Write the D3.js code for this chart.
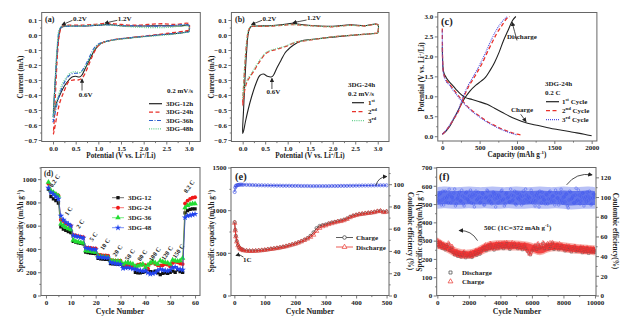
<!DOCTYPE html>
<html><head><meta charset="utf-8">
<script src="https://cdn.jsdelivr.net/npm/d3@7"></script>
<style>
body{margin:0;background:#fff}
svg text{font-family:"Liberation Serif","Times New Roman",serif;font-weight:bold;fill:#222}
.ax path.domain{display:none}
.ax line{stroke:#555;stroke-width:.8}
.ax text{font-size:7px;fill:#222}
</style></head><body>
<svg id="fig" width="632" height="332"></svg>
<script>
// ---------- (a) CV loops, 0.2 mV/s, [potential V, current mA] ----------
const cv12h = [[3.0,0.025],[2.8,0.012],[2.5,0.005],[2.0,-0.01],[1.6,-0.022],[1.3,-0.035],[1.1,-0.05],[1.0,-0.07],[0.9,-0.11],[0.8,-0.17],[0.7,-0.23],[0.63,-0.27],[0.58,-0.28],[0.5,-0.275],[0.42,-0.28],[0.35,-0.3],[0.25,-0.34],[0.15,-0.4],[0.08,-0.45],[0.03,-0.5],[0.01,-0.52],
  [0.02,-0.45],[0.05,-0.3],[0.09,-0.12],[0.13,0.0],[0.18,0.05],[0.25,0.058],[0.4,0.06],[0.7,0.06],[1.0,0.065],[1.2,0.07],[1.5,0.062],[2.0,0.06],[2.4,0.062],[2.8,0.06],[3.0,0.065],[3.0,0.025]];
const cv24h = [[3.0,0.03],[2.5,0.01],[2.0,-0.008],[1.5,-0.025],[1.2,-0.04],[1.0,-0.07],[0.9,-0.12],[0.8,-0.19],[0.7,-0.26],[0.63,-0.29],[0.55,-0.3],[0.45,-0.3],[0.35,-0.31],[0.25,-0.37],[0.15,-0.45],[0.08,-0.55],[0.03,-0.63],[0.01,-0.66],
  [0.03,-0.55],[0.06,-0.35],[0.1,-0.12],[0.14,0.0],[0.19,0.055],[0.3,0.065],[0.6,0.065],[0.9,0.07],[1.2,0.078],[1.5,0.07],[1.8,0.065],[2.1,0.07],[2.4,0.075],[2.7,0.07],[3.0,0.075],[3.0,0.03]];
const cv36h = [[3.0,0.02],[2.5,0.005],[2.0,-0.01],[1.5,-0.025],[1.2,-0.04],[1.0,-0.06],[0.9,-0.09],[0.8,-0.15],[0.7,-0.21],[0.6,-0.25],[0.5,-0.255],[0.4,-0.26],[0.3,-0.29],[0.2,-0.35],[0.12,-0.42],[0.06,-0.5],[0.02,-0.56],[0.0,-0.58],
  [0.02,-0.48],[0.05,-0.3],[0.09,-0.1],[0.13,0.02],[0.17,0.05],[0.3,0.058],[0.6,0.06],[1.0,0.065],[1.2,0.068],[1.5,0.062],[2.0,0.06],[2.5,0.06],[3.0,0.062],[3.0,0.02]];
const cv48h = [[3.0,0.02],[2.5,0.0],[2.0,-0.012],[1.5,-0.028],[1.2,-0.042],[1.0,-0.065],[0.9,-0.1],[0.8,-0.16],[0.7,-0.22],[0.6,-0.25],[0.5,-0.245],[0.4,-0.25],[0.3,-0.28],[0.2,-0.33],[0.12,-0.4],[0.06,-0.47],[0.02,-0.53],[0.0,-0.55],
  [0.02,-0.45],[0.05,-0.28],[0.09,-0.08],[0.13,0.03],[0.18,0.055],[0.3,0.06],[0.6,0.06],[1.0,0.068],[1.3,0.065],[1.7,0.055],[2.0,0.05],[2.5,0.05],[3.0,0.055],[3.0,0.02]];

// ---------- (b) CV cycles of 3DG-24h ----------
const cvCycle1 = [[3.0,0.012],[2.5,0.0],[2.1,-0.011],[1.75,-0.022],[1.5,-0.03],[1.3,-0.04],[1.13,-0.067],[1.0,-0.1],[0.94,-0.12],[0.85,-0.17],[0.76,-0.22],[0.68,-0.27],[0.63,-0.28],[0.55,-0.275],[0.46,-0.26],[0.38,-0.27],[0.3,-0.32],[0.2,-0.41],[0.12,-0.5],[0.06,-0.58],[0.02,-0.64],[0.0,-0.656],
  [0.02,-0.5],[0.05,-0.3],[0.09,-0.1],[0.13,0.02],[0.18,0.055],[0.3,0.06],[0.6,0.062],[0.9,0.07],[1.1,0.078],[1.3,0.07],[1.6,0.062],[2.0,0.058],[2.4,0.068],[2.7,0.062],[3.0,0.07],[3.0,0.012]];
const cvCycle2 = [[3.0,0.012],[2.5,0.0],[2.0,-0.012],[1.76,-0.022],[1.4,-0.038],[1.17,-0.05],[0.94,-0.078],[0.76,-0.095],[0.53,-0.12],[0.35,-0.19],[0.25,-0.24],[0.16,-0.28],[0.1,-0.31],[0.05,-0.36],[0.02,-0.42],[0.0,-0.47],
  [0.02,-0.35],[0.05,-0.2],[0.09,-0.05],[0.13,0.03],[0.18,0.055],[0.3,0.058],[0.6,0.058],[0.9,0.065],[1.1,0.07],[1.3,0.066],[1.6,0.06],[2.0,0.055],[2.4,0.065],[2.7,0.06],[3.0,0.068],[3.0,0.012]];
const cvCycle3 = [[3.0,0.012],[2.5,0.0],[2.0,-0.012],[1.76,-0.022],[1.4,-0.036],[1.17,-0.048],[0.94,-0.075],[0.76,-0.09],[0.53,-0.115],[0.35,-0.18],[0.25,-0.23],[0.16,-0.27],[0.1,-0.3],[0.05,-0.34],[0.02,-0.39],[0.0,-0.43],
  [0.02,-0.33],[0.05,-0.18],[0.09,-0.04],[0.13,0.035],[0.18,0.058],[0.3,0.06],[0.6,0.06],[0.9,0.066],[1.1,0.07],[1.3,0.066],[1.6,0.06],[2.0,0.056],[2.4,0.064],[2.7,0.06],[3.0,0.068],[3.0,0.012]];

// ---------- (c) galvanostatic profiles, [capacity mAh/g, potential V] ----------
const gcChg1 = [[0,2.25],[3,2.0],[8,1.75],[20,1.6],[50,1.48],[100,1.35],[150,1.25],[200,1.14],[250,1.05],[300,0.98],[400,0.92],[500,0.86],[600,0.8],[700,0.7],[800,0.6],[900,0.5],[1000,0.42],[1100,0.35],[1200,0.3],[1300,0.26],[1400,0.22],[1500,0.18],[1600,0.15],[1750,0.1],[1900,0.05],[2000,0.01]];
const gcChg2 = [[0,2.7],[2,2.2],[5,1.85],[15,1.6],[40,1.45],[100,1.3],[150,1.17],[200,1.05],[250,0.93],[300,0.82],[400,0.64],[500,0.5],[600,0.37],[700,0.27],[800,0.18],[900,0.11],[1000,0.05],[1060,0.03]];
const gcChg3 = [[0,2.65],[2,2.15],[5,1.82],[15,1.58],[40,1.42],[100,1.27],[150,1.14],[200,1.02],[250,0.9],[300,0.8],[400,0.62],[500,0.48],[600,0.35],[700,0.25],[800,0.16],[900,0.09],[1000,0.03]];
const gcDis1 = [[0,0.05],[50,0.13],[100,0.25],[150,0.42],[200,0.6],[259,0.82],[300,0.95],[370,1.13],[450,1.28],[520,1.38],[580,1.48],[640,1.65],[700,1.85],[760,2.1],[820,2.4],[880,2.65],[940,2.9],[985,3.0]];
const gcDis2 = [[0,0.05],[50,0.14],[100,0.27],[150,0.42],[214,0.62],[280,0.95],[348,1.23],[420,1.45],[482,1.65],[540,1.85],[594,2.07],[660,2.32],[728,2.57],[800,2.78],[880,2.98],[905,3.0]];
const gcDis3 = [[0,0.05],[50,0.15],[100,0.28],[150,0.44],[210,0.64],[275,0.97],[340,1.25],[410,1.48],[470,1.68],[530,1.9],[580,2.1],[640,2.35],[700,2.58],[780,2.82],[860,2.98],[875,3.0]];

// ---------- (d) rate capability, cycles 1-60 ----------
const rateLabels = ["0.2 C","1 C","2 C","5 C","10 C","20 C","50 C","80 C","100 C","120 C","150 C","0.2 C"];
const rateLabelAt = [[4.2,975],[9.8,715],[14.5,605],[19.8,495],[24.5,430],[29.5,375],[34.5,340],[39.5,335],[44.5,345],[49.5,355],[54,370],[58.3,925]];
const rate12 = [915,850,830,815,795, 590,570,560,550,540, 465,458,452,448,445, 372,368,365,362,360, 320,315,312,310,310, 275,272,270,268,268, 250,245,242,245,240, 200,195,195,198,205, 225,205,200,210,195, 180,190,195,190,200, 210,200,220,205,200, 710,730,740,745,745];
const rate24 = [960,890,880,870,860, 650,640,620,610,600, 520,515,510,505,500, 412,410,408,405,405, 350,348,345,345,342, 305,302,300,300,298, 265,260,258,255,255, 240,265,270,265,260, 230,275,285,270,260, 255,260,270,265,250, 280,290,285,275,270, 790,815,830,840,845];
const rate36 = [975,900,885,870,855, 615,600,585,575,565, 475,465,460,455,452, 385,380,378,375,372, 340,335,332,330,328, 300,298,295,295,292, 270,280,285,275,270, 250,255,260,270,240, 260,280,295,280,270, 300,290,285,280,270, 305,300,295,300,320, 755,775,785,790,790];
const rate48 = [925,885,870,850,830, 685,650,630,615,600, 515,510,505,500,495, 410,405,400,398,395, 330,330,328,325,325, 285,280,275,272,270, 235,238,240,236,230, 225,220,215,210,215, 195,185,190,195,215, 225,220,215,210,220, 240,245,230,225,220, 670,685,690,695,700];

// ---------- (e) long cycling at 1C ----------
const eCycles = [1,3,5,8,12,16,20,25,30,40,50,60,70,80,90,100,110,120,130,140,150,160,170,180,190,200,210,220,230,240,250,260,270,280,290,300,310,320,330,340,350,360,370,380,390,400,410,420,430,440,450,460,470,480,490,500];
const eDischarge = [850,760,690,630,585,560,545,535,528,522,520,520,522,525,528,532,538,543,548,553,560,567,575,585,595,605,618,632,648,665,685,710,755,790,810,820,835,845,855,865,870,880,895,915,930,940,950,955,960,965,970,975,985,990,975,980];
const eCharge = [860,770,700,640,592,566,550,540,532,526,523,523,525,528,531,535,541,546,551,557,563,570,578,588,598,608,621,636,652,672,700,740,790,815,825,832,845,855,862,870,878,888,902,922,935,945,953,958,963,968,972,978,988,992,980,985];
const eCE = [93,97,98.5,99,99.3,99.5,99.6,99.6,99.5,99.4,99.3,99.2,99.1,99,99,98.9,98.9,98.8,98.8,98.7,98.7,98.6,98.6,98.6,98.5,98.5,98.5,98.4,98.4,98.4,98.3,98.3,98.3,98.3,98.3,98.3,98.3,98.4,98.4,98.4,98.5,98.5,98.5,98.6,98.6,98.7,98.7,98.8,98.8,98.8,98.9,98.9,99,99,99,99];

// ---------- (f) 10000 cycles at 50C ----------
// readings at cycles 0, 100, ..., 10000
const fCE = [101,95,104,97,92,106,99,94,103,100,97,108,93,99,105,96,101,91,104,98,
  95,107,100,93,102,97,105,94,99,103,92,100,106,97,95,101,104,90,99,102,
  96,107,98,93,104,100,95,102,97,106,92,99,103,96,101,94,108,98,100,95,
  104,97,91,102,99,106,94,100,97,103,93,105,98,101,96,107,99,92,104,97,
  100,95,103,89,106,98,101,94,109,97,102,96,104,91,100,105,97,99,93,103,100];
const fCharge = [300,272,292,265,281,259,276,288,252,270,
  245,228,238,220,232,215,229,240,212,226,
  218,234,214,228,240,226,246,232,255,262,
  270,252,276,260,282,266,254,278,262,285,
  268,284,262,276,290,270,258,282,272,286,
  274,262,280,268,256,276,264,250,238,228,
  250,262,276,258,284,266,272,290,262,278,
  286,262,274,292,258,270,280,256,268,276,
  262,250,272,258,266,244,262,270,248,258,
  252,266,240,258,246,262,236,254,244,258,242];
const fDischarge = [290,268,282,258,275,250,268,280,246,262,
  236,222,232,214,226,210,222,234,206,220,
  212,228,208,222,234,220,240,226,248,256,
  262,246,270,254,276,260,248,272,256,278,
  262,278,256,270,284,264,252,276,266,280,
  268,256,274,262,250,270,258,244,232,222,
  244,256,270,252,278,260,266,284,256,272,
  280,256,268,286,252,264,274,250,262,270,
  256,244,266,252,260,238,256,264,242,252,
  246,260,234,252,240,256,230,248,238,252,236];
// readings at cycles 50, 150, ..., 9950
const fCEb = [97,103,92,106,99,95,101,108,94,100,
  104,91,98,102,96,107,93,99,105,97,
  101,94,103,90,106,98,100,95,104,92,
  99,107,96,101,93,105,98,102,94,100,
  106,97,91,103,99,95,108,96,101,93,
  104,98,100,92,106,97,102,95,99,107,
  94,101,96,104,90,100,105,97,93,102,
  98,106,95,101,92,104,99,96,108,94,
  100,103,91,97,105,99,94,102,96,107,
  93,100,104,98,95,101,106,92,99,103];
const fChargeB = [280,262,286,270,258,276,264,282,248,268,
  236,224,242,218,230,212,236,222,230,216,
  226,212,236,222,248,232,252,240,262,254,
  278,260,270,286,258,276,268,284,256,274,
  280,266,288,272,262,282,268,290,264,278,
  266,282,258,274,262,280,252,242,226,236,
  258,270,254,282,268,276,258,286,270,264,
  276,290,260,282,268,274,262,284,256,270,
  268,256,246,270,252,264,248,268,256,244,
  260,248,264,236,252,258,242,256,236,248];
// spread of the dense point clouds, one value every 500 cycles
const fCELo = [88,89,88,88,89,88,89,88,88,89,88,88,89,88,88,89,88,87,88,88,88];
const fCEHi = [110,111,110,110,111,110,110,111,110,110,111,110,110,111,110,110,111,110,110,111,110];
const fCapLo = [258,240,215,200,198,208,232,245,248,248,246,244,236,212,238,244,236,232,226,224,220];
const fCapHi = [318,292,268,252,248,262,290,300,304,304,300,298,290,270,294,300,290,286,280,278,274];

// ---------- tick values ----------
const cvCurTicks = [0.1,0,-0.1,-0.2,-0.3,-0.4,-0.5,-0.6,-0.7];
const cvPotTicks = [0,0.5,1,1.5,2,2.5,3];
const gcPotTicks = [0,0.5,1,1.5,2,2.5,3];
const gcCapTicks = [0,500,1000,1500,2000];
const rateCapTicks = [0,200,400,600,800,1000];
const rateCycTicks = [0,10,20,30,40,50,60];
const eCapTicks = [0,500,1000,1500];
const eCETicks = [0,20,40,60,80,100];
const eCycTicks = [0,100,200,300,400,500];
const fCapTicks = [0,100,200,300,400,500,600,700];
const fCETicks = [0,20,40,60,80,100,120];
const fCycTicks = [0,2000,4000,6000,8000,10000];

// ---------- drawing ----------
const svg = d3.select("#fig");
const defs = svg.append("defs");
defs.append("marker").attr("id","ah").attr("viewBox","0 0 10 10").attr("refX",8).attr("refY",5)
  .attr("markerUnits","userSpaceOnUse").attr("markerWidth",4.5).attr("markerHeight",4.5).attr("orient","auto")
  .append("path").attr("d","M0,0L10,5L0,10z").attr("fill","#222");

let clipN = 0;
const f1 = d3.format(".1f");
function panel(fr, o) {
  const g = svg.append("g");
  const x = d3.scaleLinear(o.xd, [fr.l, fr.r]);
  const y = d3.scaleLinear(o.yd, [fr.b, fr.t]);
  const y2 = o.y2d ? d3.scaleLinear(o.y2d, [fr.b, fr.t]) : null;
  const id = "clip" + (++clipN);
  defs.append("clipPath").attr("id", id).append("rect")
    .attr("x", fr.l).attr("y", fr.t).attr("width", fr.r - fr.l).attr("height", fr.b - fr.t);
  const plot = g.append("g").attr("clip-path", `url(#${id})`);
  const ax = (axis, tr) => g.append("g").attr("class","ax").attr("transform", tr).call(axis);
  const bt = `translate(0,${fr.b})`, lt = `translate(${fr.l},0)`, rt = `translate(${fr.r},0)`;
  ax(d3.axisBottom(x).tickValues(o.xt).tickFormat(o.xf || d3.format("d")).tickSize(3).tickPadding(1.2), bt);
  if (o.xm) ax(d3.axisBottom(x).tickValues(o.xm).tickFormat("").tickSize(1.6), bt);
  ax(d3.axisLeft(y).tickValues(o.yt).tickFormat(o.yf || d3.format("d")).tickSize(3).tickPadding(1.5), lt);
  if (o.ym) ax(d3.axisLeft(y).tickValues(o.ym).tickFormat("").tickSize(1.6), lt);
  if (y2) {
    ax(d3.axisRight(y2).tickValues(o.y2t).tickFormat(d3.format("d")).tickSize(3).tickPadding(1.5), rt);
    if (o.y2m) ax(d3.axisRight(y2).tickValues(o.y2m).tickFormat("").tickSize(1.6), rt);
  }
  const frame = () => g.append("rect").attr("x", fr.l).attr("y", fr.t).attr("width", fr.r - fr.l)
    .attr("height", fr.b - fr.t).attr("fill","none").attr("stroke","#666").attr("stroke-width",1);
  return {g, plot, x, y, y2, fr, frame};
}

// text with superscript parts: [[text, isSup], ...]
function rich(g, px, py, parts, fs, opt = {}) {
  const t = g.append("text").attr("x", px).attr("y", py).attr("font-size", fs)
    .attr("text-anchor", opt.anchor || "start");
  if (opt.rotate) t.attr("transform", `rotate(${opt.rotate},${px},${py})`);
  let shift = 0;
  parts.forEach(([s, sup]) => {
    const target = sup ? -fs * 0.38 : 0;
    t.append("tspan").attr("dy", target - shift).attr("font-size", sup ? fs * 0.68 : fs).text(s);
    shift = target;
  });
  return t;
}
function arrow(g, p0, p1, bend = 0) {
  const mx = (p0[0] + p1[0]) / 2, my = (p0[1] + p1[1]) / 2;
  const dx = p1[0] - p0[0], dy = p1[1] - p0[1];
  const cx = mx - dy * bend, cy = my + dx * bend;
  g.append("path").attr("d", `M${p0[0]},${p0[1]}Q${cx},${cy} ${p1[0]},${p1[1]}`)
    .attr("fill","none").attr("stroke","#222").attr("stroke-width",0.8).attr("marker-end","url(#ah)");
}
const rng = (a, b, s) => d3.range(a, b + s / 2, s);

const TS = 7.2, LS = 7;
const RED = "#e8322b", BLK = "#222", BLUE = "#2c5fcc", GRN = "#63cf8d", PUR = "#5050e0";

// ===== (a) =====
{
  const P = panel({l:41.7, r:200.3, t:12.5, b:141.5},
    {xd:[-0.25,3.25], yd:[-0.71,0.15], xt:cvPotTicks, xf:f1, xm:rng(0.25,2.75,0.5),
     yt:cvCurTicks, yf:f1, ym:rng(-0.65,0.05,0.1)});
  const ln = d3.line().x(d => P.x(d[0])).y(d => P.y(d[1])).curve(d3.curveCatmullRom.alpha(0.5));
  const ser = [[cv12h,BLK,null,1.1],[cv24h,RED,"4,2.5",1.3],[cv36h,BLUE,"4,1.5,1,1.5",1.2],[cv48h,GRN,"1,1.2",1.2]];
  ser.forEach(([d,c,da,w]) => P.plot.append("path").attr("d", ln(d)).attr("fill","none")
    .attr("stroke", c).attr("stroke-width", w).attr("stroke-dasharray", da));
  P.frame();
  const g = P.g;
  g.append("text").attr("x",45).attr("y",22).attr("font-size",8).text("(a)");
  rich(g, P.x(0.44), P.y(0.096), [["0.2V",0]], LS);
  arrow(g, [P.x(0.43), P.y(0.098)], [P.x(0.2), P.y(0.068)], 0);
  rich(g, P.x(1.43), P.y(0.096), [["1.2V",0]], LS);
  arrow(g, [P.x(1.42), P.y(0.098)], [P.x(1.15), P.y(0.08)], 0);
  rich(g, P.x(0.57), P.y(-0.41), [["0.6V",0]], LS);
  arrow(g, [P.x(0.64), P.y(-0.37)], [P.x(0.64), P.y(-0.295)], 0);
  rich(g, 167, 93, [["0.2 mV/s",0]], LS);
  const leg = [["3DG-12h",BLK,null],["3DG-24h",RED,"4,2.5"],["3DG-36h",BLUE,"4,1.5,1,1.5"],["3DG-48h",GRN,"1,1.2"]];
  leg.forEach(([s,c,da],i) => {
    const yy = 106 + i * 8.4;
    g.append("line").attr("x1",149).attr("x2",162).attr("y1",yy-2.3).attr("y2",yy-2.3)
      .attr("stroke",c).attr("stroke-width",1.2).attr("stroke-dasharray",da);
    g.append("text").attr("x",166).attr("y",yy).attr("font-size",LS).text(s);
  });
  rich(g, 22.5, 77, [["Current (mA)",0]], TS, {anchor:"middle", rotate:-90});
  rich(g, 121, 158, [["Potential (V vs. Li",0],["+",1],["/Li)",0]], TS, {anchor:"middle"});
}

// ===== (b) =====
{
  const P = panel({l:231.4, r:389, t:12.5, b:141.5},
    {xd:[-0.25,3.25], yd:[-0.71,0.15], xt:cvPotTicks, xf:f1, xm:rng(0.25,2.75,0.5),
     yt:cvCurTicks, yf:f1, ym:rng(-0.65,0.05,0.1)});
  const ln = d3.line().x(d => P.x(d[0])).y(d => P.y(d[1])).curve(d3.curveCatmullRom.alpha(0.5));
  const ser = [[cvCycle1,BLK,null,1.1],[cvCycle2,RED,"4,2.5",1.3],[cvCycle3,GRN,"1,1.2",1.2]];
  ser.forEach(([d,c,da,w]) => P.plot.append("path").attr("d", ln(d)).attr("fill","none")
    .attr("stroke", c).attr("stroke-width", w).attr("stroke-dasharray", da));
  P.frame();
  const g = P.g;
  g.append("text").attr("x",235).attr("y",22).attr("font-size",8).text("(b)");
  rich(g, P.x(0.44), P.y(0.096), [["0.2V",0]], LS);
  arrow(g, [P.x(0.43), P.y(0.098)], [P.x(0.2), P.y(0.07)], 0);
  rich(g, P.x(1.43), P.y(0.1), [["1.2V",0]], LS);
  arrow(g, [P.x(1.42), P.y(0.1)], [P.x(1.12), P.y(0.082)], 0);
  rich(g, P.x(0.53), P.y(-0.39), [["0.6V",0]], LS);
  arrow(g, [P.x(0.65), P.y(-0.36)], [P.x(0.65), P.y(-0.29)], 0);
  rich(g, 348, 87, [["3DG-24h",0]], LS);
  rich(g, 348, 96, [["0.2 mV/s",0]], LS);
  const leg = [[["1",0],["st",1]],[["2",0],["nd",1]],[["3",0],["rd",1]]];
  const sty = [[BLK,null],[RED,"4,2.5"],[GRN,"1,1.2"]];
  leg.forEach((parts,i) => {
    const yy = 105 + i * 9;
    g.append("line").attr("x1",352).attr("x2",364).attr("y1",yy-2.3).attr("y2",yy-2.3)
      .attr("stroke",sty[i][0]).attr("stroke-width",1.2).attr("stroke-dasharray",sty[i][1]);
    rich(g, 368, yy, parts, LS);
  });
  rich(g, 213.5, 77, [["Current (mA)",0]], TS, {anchor:"middle", rotate:-90});
  rich(g, 310, 158, [["Potential (V vs. Li",0],["+",1],["/Li)",0]], TS, {anchor:"middle"});
}

// ===== (c) =====
{
  const P = panel({l:437.8, r:596.9, t:12.5, b:141},
    {xd:[-60,2070], yd:[-0.12,3.1], xt:gcCapTicks, xm:[250,750,1250,1750],
     yt:gcPotTicks, yf:f1, ym:rng(0.25,2.75,0.5)});
  const ln = d3.line().x(d => P.x(d[0])).y(d => P.y(d[1])).curve(d3.curveMonotoneX);
  const ser = [[gcChg1,BLK,null,1.1],[gcDis1,BLK,null,1.1],[gcChg2,RED,"4,2.5",1.3],[gcDis2,RED,"4,2.5",1.3],
    [gcChg3,PUR,"1,1",1.1],[gcDis3,PUR,"1,1",1.1]];
  ser.forEach(([d,c,da,w]) => P.plot.append("path").attr("d", ln(d)).attr("fill","none")
    .attr("stroke", c).attr("stroke-width", w).attr("stroke-dasharray", da));
  P.frame();
  const g = P.g;
  g.append("text").attr("x",441).attr("y",25).attr("font-size",10.5).text("(c)");
  rich(g, 507, 39, [["Discharge",0]], LS);
  arrow(g, [P.x(1000), P.y(2.4)], [P.x(935), P.y(2.85)], 0);
  rich(g, 511, 112, [["Charge",0]], LS);
  arrow(g, [P.x(1050), P.y(0.55)], [P.x(1120), P.y(0.37)], 0);
  rich(g, 545, 86, [["3DG-24h",0]], LS);
  rich(g, 545, 95, [["0.2 C",0]], LS);
  const sty = [[BLK,null],[RED,"4,2.5"],[PUR,"1,1"]];
  const leg = [[["1",0],["st",1],[" Cycle",0]],[["2",0],["nd",1],[" Cycle",0]],[["3",0],["rd",1],[" Cycle",0]]];
  leg.forEach((parts,i) => {
    const yy = 104 + i * 9;
    g.append("line").attr("x1",546).attr("x2",559).attr("y1",yy-2.3).attr("y2",yy-2.3)
      .attr("stroke",sty[i][0]).attr("stroke-width",1.2).attr("stroke-dasharray",sty[i][1]);
    rich(g, 562, yy, parts, LS);
  });
  rich(g, 423.5, 77, [["Potential (V vs. Li",0],["+",1],["/Li)",0]], TS, {anchor:"middle", rotate:-90});
  rich(g, 517, 157, [["Capacity (mAh g",0],["-1",1],[")",0]], TS, {anchor:"middle"});
}

// ===== (d) =====
{
  const P = panel({l:41, r:200, t:167.5, b:295.5},
    {xd:[-2,62], yd:[0,1100], xt:rateCycTicks, xm:rng(5,55,10),
     yt:rateCapTicks, ym:rng(100,1100,200)});
  const cyc = d3.range(1, 61);
  const ser = [[rate12,"#111",d3.symbolSquare,11],[rate24,"#f01818",d3.symbolCircle,12],
               [rate36,"#22dd33",d3.symbolTriangle,13],[rate48,"#2244ee",d3.symbolStar,13]];
  const ln = d3.line().x((d,i) => P.x(cyc[i])).y(d => P.y(d));
  ser.forEach(([d,c,sym,sz]) => {
    P.plot.append("path").attr("d", ln(d)).attr("fill","none").attr("stroke",c).attr("stroke-width",0.6);
    P.plot.selectAll(null).data(d).join("path")
      .attr("transform",(v,i) => `translate(${P.x(cyc[i])},${P.y(v)})`)
      .attr("d", d3.symbol(sym, sz)).attr("fill", c);
  });
  P.frame();
  const g = P.g;
  g.append("text").attr("x",44).attr("y",176).attr("font-size",7.5).text("(d)");
  rateLabels.forEach((s,i) => {
    const [cx, cy] = rateLabelAt[i];
    g.append("text").attr("x",0).attr("y",0).attr("font-size",6.3).attr("text-anchor","middle")
      .attr("transform",`translate(${P.x(cx)},${P.y(cy)}) rotate(-55)`).text(s);
  });
  const names = ["3DG-12","3DG-24","3DG-36","3DG-48"];
  names.forEach((s,i) => {
    const yy = 200 + i * 10;
    g.append("line").attr("x1",112).attr("x2",124).attr("y1",yy-2.3).attr("y2",yy-2.3).attr("stroke",ser[i][1]).attr("stroke-width",0.6);
    g.append("path").attr("transform",`translate(118,${yy-2.3})`).attr("d", d3.symbol(ser[i][2], ser[i][3])).attr("fill", ser[i][1]);
    g.append("text").attr("x",128).attr("y",yy).attr("font-size",LS).text(s);
  });
  rich(g, 22.5, 231, [["Specific capacity (mAh g",0],["-1",1],[")",0]], TS, {anchor:"middle", rotate:-90});
  rich(g, 120, 314, [["Cycle Number",0]], 7.8, {anchor:"middle"});
}

// ===== (e) =====
{
  const P = panel({l:231, r:389, t:167.5, b:295.5},
    {xd:[-11,508], yd:[0,1500], y2d:[0,115], xt:eCycTicks, xm:rng(50,450,100),
     yt:eCapTicks, ym:[250,750,1250], y2t:eCETicks, y2m:rng(10,110,20)});
  const ln = (ys, sc) => d3.line().x((d,i) => P.x(eCycles[i])).y(d => sc(d))(ys);
  P.plot.append("path").attr("d", ln(eCE, P.y2)).attr("fill","none").attr("stroke","#2a3ee0").attr("stroke-width",0.8);
  P.plot.selectAll(null).data(eCE).join("circle").attr("cx",(d,i)=>P.x(eCycles[i])).attr("cy",d=>P.y2(d))
    .attr("r",1.6).attr("fill","none").attr("stroke","#2a3ee0").attr("stroke-width",0.6);
  P.plot.append("path").attr("d", ln(eCharge, P.y)).attr("fill","none").attr("stroke","#333").attr("stroke-width",0.8);
  P.plot.selectAll(null).data(eCharge).join("circle").attr("cx",(d,i)=>P.x(eCycles[i])).attr("cy",d=>P.y(d))
    .attr("r",1.6).attr("fill","none").attr("stroke","#333").attr("stroke-width",0.6);
  P.plot.append("path").attr("d", ln(eDischarge, P.y)).attr("fill","none").attr("stroke",RED).attr("stroke-width",1);
  P.plot.selectAll(null).data(eDischarge).join("path")
    .attr("transform",(d,i)=>`translate(${P.x(eCycles[i])},${P.y(d)})`)
    .attr("d", d3.symbol(d3.symbolTriangle, 9)).attr("fill","none").attr("stroke",RED).attr("stroke-width",0.6);
  P.frame();
  const g = P.g;
  g.append("text").attr("x",235).attr("y",180).attr("font-size",10.5).text("(e)");
  g.append("line").attr("x1",336).attr("x2",353).attr("y1",237.5).attr("y2",237.5).attr("stroke","#333").attr("stroke-width",0.8);
  g.append("circle").attr("cx",344.5).attr("cy",237.5).attr("r",1.8).attr("fill","#fff").attr("stroke","#333").attr("stroke-width",0.7);
  g.append("text").attr("x",356).attr("y",240).attr("font-size",LS).text("Charge");
  g.append("line").attr("x1",336).attr("x2",353).attr("y1",247).attr("y2",247).attr("stroke",RED).attr("stroke-width",0.8);
  g.append("path").attr("transform","translate(344.5,247)").attr("d", d3.symbol(d3.symbolTriangle, 10)).attr("fill","#fff").attr("stroke",RED).attr("stroke-width",0.7);
  g.append("text").attr("x",356).attr("y",249.5).attr("font-size",LS).text("Discharge");
  g.append("text").attr("x",243).attr("y",262).attr("font-size",LS).text("1C");
  arrow(g, [P.x(30), P.y(450)], [P.x(6), P.y(470)], 0.3);
  arrow(g, [P.x(465), P.y(1290)], [P.x(500), P.y(1395)], -0.35);
  rich(g, 213.5, 231, [["Specific capacity (mAh g",0],["-1",1],[")",0]], TS, {anchor:"middle", rotate:-90});
  rich(g, 407.5, 231, [["Coulombic efficiency (%)",0]], TS, {anchor:"middle", rotate:90});
  rich(g, 310, 314, [["Cycle Number",0]], 7.8, {anchor:"middle"});
}

// ===== (f) =====
{
  const P = panel({l:436.7, r:596, t:167.5, b:295.5},
    {xd:[-40,10065], yd:[0,700], y2d:[0,130], xt:fCycTicks, xm:rng(1000,9000,2000),
     yt:fCapTicks, ym:rng(50,650,100), y2t:fCETicks, y2m:rng(10,110,20)});
  const bandC = d3.range(fCELo.length).map(i => i * 500);
  const ptC = d3.range(fCE.length).map(i => i * 100);
  const ptCb = d3.range(fCEb.length).map(i => i * 100 + 50);
  const area = (lo, hi, sc) => d3.area().x((d,i) => P.x(bandC[i])).y0((d,i) => sc(lo[i])).y1((d,i) => sc(hi[i]))
    .curve(d3.curveBasis)(lo);
  P.plot.append("path").attr("d", area(fCELo, fCEHi, P.y2)).attr("fill","#9aa6f2").attr("opacity",0.7);
  P.plot.append("path").attr("d", area(fCELo.map(v=>v+4), fCEHi.map(v=>v-4), P.y2)).attr("fill","#3a52ea").attr("opacity",0.7);
  [[fCE, ptC],[fCEb, ptCb]].forEach(([vals, cs]) =>
    P.plot.selectAll(null).data(vals).join("circle").attr("cx",(d,i)=>P.x(cs[i])).attr("cy",d=>P.y2(d))
      .attr("r",1.3).attr("fill","none").attr("stroke","#4258ee").attr("stroke-width",0.5));
  P.plot.append("path").attr("d", area(fCapLo, fCapHi, P.y)).attr("fill","#f48a82").attr("opacity",0.7);
  P.plot.append("path").attr("d", area(fCapLo.map(v=>v+9), fCapHi.map(v=>v-9), P.y)).attr("fill","#f02020").attr("opacity",0.75);
  P.plot.selectAll(null).data(fDischarge).join("path")
    .attr("transform",(d,i)=>`translate(${P.x(ptC[i])},${P.y(d)})`)
    .attr("d", d3.symbol(d3.symbolSquare, 5)).attr("fill","none").attr("stroke","#555").attr("stroke-width",0.5);
  [[fCharge, ptC],[fChargeB, ptCb]].forEach(([vals, cs]) =>
    P.plot.selectAll(null).data(vals).join("path")
      .attr("transform",(d,i)=>`translate(${P.x(cs[i])},${P.y(d)})`)
      .attr("d", d3.symbol(d3.symbolTriangle, 6)).attr("fill","none").attr("stroke","#f03030").attr("stroke-width",0.5));
  P.frame();
  const g = P.g;
  g.append("text").attr("x",439).attr("y",180).attr("font-size",10.5).text("(f)");
  g.append("path").attr("transform","translate(450.5,272.5)").attr("d", d3.symbol(d3.symbolSquare, 9)).attr("fill","none").attr("stroke","#444").attr("stroke-width",0.7);
  g.append("text").attr("x",462).attr("y",275).attr("font-size",LS).text("Discharge");
  g.append("path").attr("transform","translate(450.5,281.5)").attr("d", d3.symbol(d3.symbolTriangle, 10)).attr("fill","none").attr("stroke",RED).attr("stroke-width",0.7);
  g.append("text").attr("x",462).attr("y",284).attr("font-size",LS).text("Charge");
  rich(g, 484, 230, [["50C (1C=372 mAh g",0],["-1",1],[")",0]], LS);
  arrow(g, [P.x(2550), P.y(300)], [P.x(1400), P.y(355)], 0.3);
  arrow(g, [P.x(8200), P.y(605)], [P.x(9800), P.y(660)], -0.3);
  rich(g, 421.5, 231, [["Specific capacity(mAh g",0],["-1",1],[")",0]], TS, {anchor:"middle", rotate:-90});
  rich(g, 612.5, 231, [["Coulombic efficiency(%)",0]], TS, {anchor:"middle", rotate:90});
  rich(g, 517, 314, [["Cycle Number",0]], 7.8, {anchor:"middle"});
}
</script></body></html>
